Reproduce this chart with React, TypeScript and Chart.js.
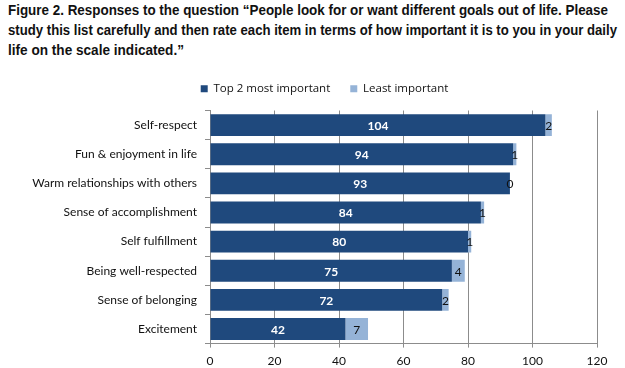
import React, { useEffect, useRef } from "react";
import { Chart, registerables } from "chart.js";

Chart.register(...registerables);

const titleLines = [
  "Figure 2. Responses to the question \u201cPeople look for or want different goals out of life. Please",
  "study this list carefully and then rate each item in terms of how important it is to you in your daily",
  "life on the scale indicated.\u201d",
];
const titleLineWidths = [600, 609, 176];

const categories = [
  "Self-respect",
  "Fun & enjoyment in life",
  "Warm relationships with others",
  "Sense of accomplishment",
  "Self fulfillment",
  "Being well-respected",
  "Sense of belonging",
  "Excitement",
];

const topTwo = [104, 94, 93, 84, 80, 75, 72, 42];
const leastImportant = [2, 1, 0, 1, 1, 4, 2, 7];

const seriesNames = ["Top 2 most important", "Least important"];
const xTicks = [0, 20, 40, 60, 80, 100, 120];

const DARK = "#1F497D";
const LIGHT = "#95B3D7";
const GRID = "#8C8C8C";
const LABEL_FONT = "Lato, 'DejaVu Sans', sans-serif";
const LEGEND_FONT = "'Open Sans', Lato, sans-serif";
const LEGEND_EXTRA = 6;
const LEGEND_SHIFT = 26;

const valueLabels = {
  id: "valueLabels",
  afterDatasetsDraw(chart: any) {
    const ctx = chart.ctx;
    ctx.save();
    ctx.textAlign = "center";
    ctx.textBaseline = "middle";
    chart.data.datasets.forEach((ds: any, di: number) => {
      const meta = chart.getDatasetMeta(di);
      meta.data.forEach((bar: any, i: number) => {
        const v = ds.data[i];
        const cx = (bar.x + bar.base) / 2;
        if (di === 0) {
          ctx.fillStyle = "#FFFFFF";
          ctx.font = `bold 12px ${LABEL_FONT}`;
        } else {
          ctx.fillStyle = "#111111";
          ctx.font = `12px ${LABEL_FONT}`;
        }
        ctx.fillText(String(v), cx, bar.y + 1);
      });
    });
    ctx.restore();
  },
};

const legendSpacer = {
  id: "legendSpacer",
  beforeLayout(chart: any) {
    const lg = chart.legend;
    if (lg && !lg._spacerPatched) {
      const orig = lg.fit.bind(lg);
      lg.fit = () => {
        orig();
        lg.height += LEGEND_EXTRA;
      };
      lg._spacerPatched = true;
    }
  },
  afterLayout(chart: any) {
    const lg = chart.legend;
    if (lg) {
      lg.left += LEGEND_SHIFT;
      lg.right += LEGEND_SHIFT;
    }
  },
};

export default function App() {
  const canvasRef = useRef<HTMLCanvasElement | null>(null);
  const lineRefs = useRef<(HTMLSpanElement | null)[]>([]);

  useEffect(() => {
    lineRefs.current.forEach((el, i) => {
      if (!el) return;
      el.style.transform = "none";
      const w = el.getBoundingClientRect().width;
      if (w > 0) el.style.transform = `scaleX(${titleLineWidths[i] / w})`;
    });
    if (!canvasRef.current) return;
    const chart = new Chart(canvasRef.current, {
      type: "bar",
      data: {
        labels: categories,
        datasets: [
          {
            label: seriesNames[0],
            data: topTwo,
            backgroundColor: DARK,
            borderWidth: 0,
            categoryPercentage: 0.75,
            barPercentage: 1,
          },
          {
            label: seriesNames[1],
            data: leastImportant,
            backgroundColor: LIGHT,
            borderWidth: 0,
            categoryPercentage: 0.75,
            barPercentage: 1,
          },
        ],
      },
      options: {
        indexAxis: "y",
        animation: false,
        responsive: false,
        maintainAspectRatio: false,
        layout: { padding: { top: 1, right: 28, bottom: 0, left: 0 } },
        plugins: {
          legend: {
            position: "top",
            align: "center",
            labels: {
              boxWidth: 7,
              boxHeight: 7,
              padding: 20,
              color: "#111111",
              font: { size: 11.5, family: LEGEND_FONT },
            },
          },
          tooltip: { enabled: false },
          title: { display: false },
        },
        scales: {
          x: {
            stacked: true,
            min: 0,
            max: 120,
            afterBuildTicks: (scale: any) => {
              scale.ticks = xTicks.map((v) => ({ value: v }));
            },
            ticks: {
              color: "#111111",
              padding: 6,
              font: { size: 12, family: LABEL_FONT },
            },
            grid: {
              color: GRID,
              lineWidth: 1,
              tickLength: 4,
              drawTicks: true,
            },
            border: { color: GRID },
          },
          y: {
            stacked: true,
            afterFit: (scale: any) => {
              scale.width = 210;
            },
            ticks: {
              color: "#111111",
              padding: 8,
              font: { size: 12, family: LABEL_FONT },
            },
            grid: {
              offset: true,
              drawOnChartArea: false,
              drawTicks: true,
              tickLength: 5,
              color: GRID,
            },
            border: { color: GRID },
          },
        },
      },
      plugins: [legendSpacer, valueLabels],
    });
    return () => chart.destroy();
  }, []);

  return (
    <div
      style={{
        position: "absolute",
        left: 0,
        top: 0,
        width: 625,
        height: 368,
        background: "#FFFFFF",
        overflow: "hidden",
      }}
    >
      <div
        style={{
          position: "absolute",
          left: 8,
          top: 0,
          fontFamily: "'Liberation Sans', Arial, sans-serif",
          fontWeight: "bold",
          fontSize: 15,
          lineHeight: "20px",
          color: "#111111",
          whiteSpace: "nowrap",
        }}
      >
        {titleLines.map((t, i) => (
          <div key={i}>
            <span
              ref={(el) => {
                lineRefs.current[i] = el;
              }}
              style={{ display: "inline-block", transformOrigin: "0 0" }}
            >
              {t}
            </span>
          </div>
        ))}
      </div>
      <canvas
        ref={canvasRef}
        width={625}
        height={312}
        style={{ position: "absolute", left: 0, top: 62, width: 625, height: 312 }}
      />
    </div>
  );
}
